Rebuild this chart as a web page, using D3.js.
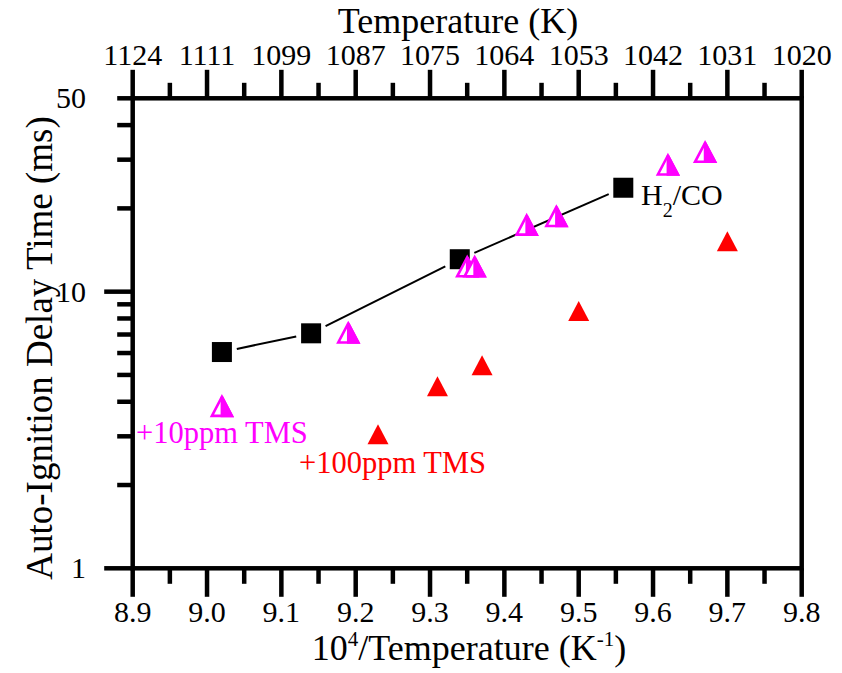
<!DOCTYPE html>
<html><head><meta charset="utf-8">
<script src="https://cdn.jsdelivr.net/npm/d3@7/dist/d3.min.js"></script>
<style>body{margin:0;background:#fff}svg{display:block}svg text{font-family:"Liberation Serif","DejaVu Serif",serif !important}</style>
</head><body><svg id="c" width="842" height="673" font-family="Liberation Serif, DejaVu Serif, serif"></svg>
<script>
// ---- data ----
const h2coX = [9.02, 9.14, 9.34, 9.56];
const h2coY = [6.05, 7.07, 13.1, 23.75];
const tms10X = [9.02, 9.19, 9.35, 9.36, 9.43, 9.47, 9.62, 9.67];
const tms10Y = [3.85, 7.09, 12.3, 12.3, 17.4, 18.7, 28.7, 31.9];
const tms100X = [9.23, 9.31, 9.37, 9.50, 9.70];
const tms100Y = [3.05, 4.55, 5.42, 8.51, 15.2];
const xTickValues = [8.9, 9.0, 9.1, 9.2, 9.3, 9.4, 9.5, 9.6, 9.7, 9.8];
const topTickLabels = ["1124", "1111", "1099", "1087", "1075", "1064", "1053", "1042", "1031", "1020"];
const yMajorTicks = [1, 10];
const yMinorTicks = [2, 3, 4, 5, 6, 7, 8, 9, 20, 30, 40, 50];
const yTickLabels = [1, 10, 50];

// ---- layout ----
const FONT = '"Liberation Serif", "DejaVu Serif", serif';
const L = 132.7, R = 801.7, T = 98.3, B = 568.3;
const svg = d3.select("#c");
const x = d3.scaleLinear().domain([8.9, 9.8]).range([L, R]);
const y = d3.scaleLog().domain([1, 50]).range([B, T]);
const AXW = 4.5, MAJ = 28.5, MIN = 15.5;
const tickFs = 30, titleFs = 36;

const g = svg.append("g");
const xMinor = xTickValues.slice(0, -1).map((v, i) => (v + xTickValues[i + 1]) / 2);

function vt(data, y1, y2) {
  g.selectAll(null).data(data).join("line")
    .attr("x1", d => x(d)).attr("x2", d => x(d)).attr("y1", y1).attr("y2", y2)
    .attr("stroke", "#000").attr("stroke-width", AXW);
}
vt(xTickValues, B, B + MAJ);
vt(xMinor, B, B + MIN);
vt(xTickValues, T, T - MAJ);
vt(xMinor, T, T - MIN);
g.selectAll(null).data(yMajorTicks).join("line")
  .attr("x1", L - MAJ).attr("x2", L).attr("y1", d => y(d)).attr("y2", d => y(d))
  .attr("stroke", "#000").attr("stroke-width", AXW);
g.selectAll(null).data(yMinorTicks).join("line")
  .attr("x1", L - MIN).attr("x2", L).attr("y1", d => y(d)).attr("y2", d => y(d))
  .attr("stroke", "#000").attr("stroke-width", AXW);
g.append("rect").attr("x", L).attr("y", T).attr("width", R - L).attr("height", B - T)
  .attr("fill", "none").attr("stroke", "#000").attr("stroke-width", AXW);

function txt(parent) {
  return parent.append("text").style("font-family", FONT).style("fill", "#000");
}

// tick labels
g.selectAll(null).data(xTickValues).join("text").style("font-family", FONT)
  .attr("x", d => x(d)).attr("y", 622).attr("text-anchor", "middle")
  .attr("font-size", tickFs).text(d => d3.format(".1f")(d));
g.selectAll(null).data(xTickValues).join("text").style("font-family", FONT)
  .attr("x", d => x(d)).attr("y", 65).attr("text-anchor", "middle")
  .attr("font-size", tickFs).text((d, i) => topTickLabels[i]);
g.selectAll(null).data(yTickLabels).join("text").style("font-family", FONT)
  .attr("x", 86).attr("y", d => y(d) + 10).attr("text-anchor", "end")
  .attr("font-size", tickFs).text(d => d);

// titles
txt(svg).attr("x", 458).attr("y", 33).attr("text-anchor", "middle")
  .attr("font-size", titleFs).text("Temperature (K)");
const bt = txt(svg).attr("x", 469).attr("y", 660).attr("text-anchor", "middle")
  .attr("font-size", titleFs);
bt.append("tspan").text("10");
bt.append("tspan").attr("font-size", 21).attr("dy", -14).text("4");
bt.append("tspan").attr("dy", 14).text("/Temperature (K");
bt.append("tspan").attr("font-size", 21).attr("dy", -14).text("-1");
bt.append("tspan").attr("dy", 14).text(")");
txt(svg).attr("transform", "translate(52,348) rotate(-90)")
  .attr("text-anchor", "middle").attr("font-size", 37).text("Auto-Ignition Delay Time (ms)");

// ---- data marks ----
const pts = h2coX.map((v, i) => [x(v), y(h2coY[i])]);
const half = 10, gap = 5;
const segs = [];
for (let i = 0; i < pts.length - 1; i++) {
  const [x1, y1] = pts[i], [x2, y2] = pts[i + 1];
  const dx = x2 - x1, dy = y2 - y1, len = Math.hypot(dx, dy);
  const ux = dx / len, uy = dy / len;
  const s = half / Math.max(Math.abs(ux), Math.abs(uy)) + gap;
  segs.push([x1 + ux * s, y1 + uy * s, x2 - ux * s, y2 - uy * s]);
}
svg.selectAll(null).data(segs).join("line")
  .attr("x1", d => d[0]).attr("y1", d => d[1]).attr("x2", d => d[2]).attr("y2", d => d[3])
  .attr("stroke", "#000").attr("stroke-width", 2);
svg.selectAll(null).data(h2coX).join("rect")
  .attr("x", d => x(d) - half).attr("y", (d, i) => y(h2coY[i]) - half)
  .attr("width", 2 * half).attr("height", 2 * half).attr("fill", "#000");

// magenta half-filled triangles
const tw = 20, th = 19;
const m = svg.selectAll(null).data(tms10X).join("g")
  .attr("transform", (d, i) => `translate(${x(d)},${y(tms10Y[i])})`);
m.append("path").attr("d", `M0,${-th / 2}L${-tw / 2},${th / 2}L${tw / 2},${th / 2}Z`)
  .attr("fill", "#fff").attr("stroke", "#ff00ff").attr("stroke-width", 2.6);
m.append("path").attr("d", `M0,${-th / 2}L0,${th / 2}L${tw / 2},${th / 2}Z`)
  .attr("fill", "#ff00ff").attr("stroke", "#ff00ff").attr("stroke-width", 2.6);

// red triangles
const rw = 21, rh = 20;
svg.selectAll(null).data(tms100X).join("path")
  .attr("transform", (d, i) => `translate(${x(d)},${y(tms100Y[i])})`)
  .attr("d", `M0,${-rh / 2}L${-rw / 2},${rh / 2}L${rw / 2},${rh / 2}Z`)
  .attr("fill", "#ff0000");

// annotations
const h = txt(svg).attr("x", 641).attr("y", 205).attr("font-size", 30);
h.append("tspan").text("H");
h.append("tspan").attr("font-size", 20).attr("dy", 12).text("2");
h.append("tspan").attr("dy", -12).text("/CO");
txt(svg).attr("x", 136).attr("y", 443).attr("font-size", 30.5)
  .style("fill", "#ff00ff").text("+10ppm TMS");
txt(svg).attr("x", 299).attr("y", 473).attr("font-size", 30.5)
  .style("fill", "#ff0000").text("+100ppm TMS");
</script></body></html>
